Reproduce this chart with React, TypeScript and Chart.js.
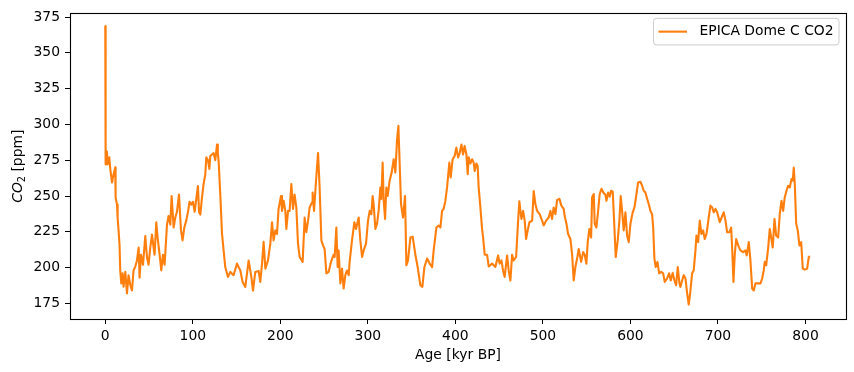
import { useEffect, useRef } from "react";
import { Chart, registerables } from "chart.js";

Chart.register(...registerables);

// Age (kyr BP) and CO2 (ppm)
const ages = [
  0, 0.2, 0.6, 1.9, 2.6, 4.6, 5.7, 7.7, 9.5, 11.4,
  11.8, 13.4, 14.1, 15.2, 16.3, 17.1, 18.3, 19.8, 20.9, 22.9,
  24.8, 26.6, 28.6, 30.5, 32.3, 34.3, 36.2, 38.1, 39.2, 40.8,
  43.1, 45.7, 47.7, 49.5, 51.4, 53.4, 55.2, 56.3, 58.3, 59.8,
  62.1, 64, 65.9, 67.8, 70.5, 72.3, 74.3, 75.8, 78.1, 80,
  81.9, 84.2, 86.5, 88.3, 90.3, 92.6, 94.5, 96.3, 98.3, 100.2,
  102.1, 104, 105.9, 107.1, 108.6, 110.5, 112.3, 114.3, 115.4, 117.4,
  118.9, 120, 121.9, 123.8, 125.7, 127.7, 128.6, 129.5, 131.4, 133.4,
  135.2, 137.1, 140.2, 142.9, 146.6, 150.5, 154.3, 156.9, 160, 163.8,
  166.9, 168.8, 171.4, 175.2, 177.1, 179.1, 180.9, 182.9, 185.9, 188.6,
  190.5, 192.3, 194.3, 196.2, 198, 200.8, 201.9, 203.8, 205.7, 206.9,
  208.8, 210.6, 212.6, 214.5, 216.3, 218.3, 220.2, 222.1, 225.5, 227.8,
  229.7, 231.7, 233.5, 236.2, 236.9, 238.5, 240.8, 243.1, 244.9, 246.9,
  248.8, 250.6, 252.6, 255.2, 257.9, 260.9, 262.1, 264, 265.5, 266.6,
  268.6, 270.5, 272.3, 274.3, 276.2, 278.1, 279.2, 281.9, 284.6, 286.5,
  289.5, 291.4, 293.4, 295.2, 297.9, 300.2, 302.1, 304, 305.5, 306.6,
  308.6, 310.5, 312.3, 314.3, 315.4, 316.9, 318.1, 319.7, 321.1, 322.6,
  324.9, 327.2, 329.5, 331.4, 333.4, 334.9, 336, 337.9, 340.2, 342.5,
  344, 345.9, 348.6, 351.2, 354.3, 356.9, 360, 362.3, 364.6, 367.7,
  370.6, 373.4, 375.2, 378.3, 380.9, 382.9, 384.8, 386.6, 388.6, 390.5,
  393.1, 394.6, 396.9, 399.2, 401.1, 403.1, 404.9, 406.9, 408.8, 410.6,
  412.6, 414.1, 415.2, 417.1, 419.1, 420.9, 422.1, 424, 425.5, 426.6,
  428.6, 430.5, 431.7, 433.5, 436.2, 438.1, 441.9, 445.7, 448.8, 450.6,
  452.6, 454.5, 456.3, 459.1, 460.9, 462.9, 464.8, 466.6, 469.4, 471.7,
  473.1, 475.4, 477.4, 479.2, 480.8, 482.6, 484.6, 487.7, 489.5, 491.4,
  493.4, 496.3, 499.1, 500.9, 503.7, 506.6, 508.6, 510.5, 512.3, 514.3,
  516.2, 518.9, 521.1, 523.8, 524.9, 526.9, 528.8, 531.4, 533.4, 535.2,
  537.1, 539.1, 540.9, 543.7, 546, 547.8, 549.7, 551.2, 553.1, 555.1,
  556.2, 558.1, 559.2, 561.1, 563.1, 564.9, 566.9, 569.5, 571.4, 572.6,
  574.5, 576.3, 577.9, 579.8, 581.7, 583.2, 585.5, 587.4, 588.9, 590.5,
  592.3, 594.3, 596.2, 598.1, 600, 602.6, 604.6, 606.9, 608.8, 611.4,
  613.4, 615.2, 617.1, 619.1, 620.9, 622.9, 624.8, 626, 627.4, 628.9,
  630.9, 632.8, 635.1, 637.4, 639.2, 641.9, 644.2, 646.1, 648.3, 650.3,
  652.2, 654.1, 656, 657.1, 659.1, 660.9, 662.9, 664.8, 666.6, 668.6,
  670.5, 672.3, 674.3, 675.4, 677.4, 679.2, 681.1, 683.1, 684.9, 686.9,
  689.5, 691.4, 693.4, 695.2, 697.1, 699.1, 702.1, 704.8, 706.6, 708.6,
  710.5, 713.1, 715.1, 716.2, 717.7, 719.2, 720.8, 723.1, 725.7, 728.8,
  731.4, 732.9, 735.2, 737.1, 739.1, 740.9, 742.9, 745.9, 748.6, 750.5,
  752.3, 753.5, 755.1, 757.4, 759.2, 761.1, 762.6, 764.6, 766.5, 768.8,
  770.6, 772.6, 774.5, 776.3, 778.3, 780.2, 782.1, 784, 785.5, 786.6,
  787.8, 789.4, 791.2, 793.1, 795.1, 796.9, 799.2, 801.9, 803.8, 805,
];

const co2 = [
  368.7, 286, 272, 281, 272, 277, 269, 259.5, 265, 270,
  249, 244, 235, 226, 216, 198, 189, 196, 186.7, 197,
  182, 194.7, 187.7, 184, 198, 200.7, 205, 214, 193, 209,
  202, 222, 207, 202, 214, 223, 214, 209, 231.7, 221,
  209, 198, 209, 202, 230, 236, 230, 250, 228, 235,
  239, 251, 226, 219, 228, 233, 239, 246, 244, 246,
  239, 248, 257, 239, 237, 249, 258.3, 265, 277, 275,
  269, 278, 279, 280, 275, 286, 280, 274.5, 251, 223.5,
  212, 200.4, 193.5, 197, 194.7, 202.8, 198, 190, 186.5, 205,
  193.5, 184, 197, 197.7, 190, 202.8, 218, 199.3, 205, 216.7,
  231.7, 219, 226, 223.5, 241, 250, 239.6, 246.7, 239.6, 227,
  239.6, 239.6, 258.3, 241, 251, 242, 216.7, 207.4, 204, 235,
  224.7, 232.8, 242, 245.6, 252.5, 239.6, 260.7, 280, 256, 219,
  215.5, 213, 196, 197, 204, 209, 207.4, 228, 200.4, 212,
  189, 199.3, 185.4, 194.7, 198, 194.7, 204, 219, 231.7, 227,
  235, 219, 207.4, 212, 216.7, 232.8, 239.6, 237.3, 250, 244.4,
  227, 230.6, 239.6, 256, 248, 273.3, 246.7, 234, 256, 250,
  260.7, 266.4, 275.7, 266.4, 289.6, 299, 279, 244.4, 235, 250,
  201.6, 205, 221, 221.6, 209, 200.4, 187.7, 186.5, 200.4, 206.3,
  202.8, 200.4, 212, 228, 229.4, 228, 239.6, 241, 246.7, 256,
  273.3, 263, 275.7, 278, 283.8, 277, 280, 286, 279, 285,
  279, 265.3, 277, 272.7, 275.7, 273.3, 267.5, 272.7, 271, 256,
  242, 227, 221, 209, 209, 200.8, 202.8, 200.4, 208.5, 202.8,
  205, 198, 193.5, 208.5, 198, 191, 209, 205, 207.4, 232.8,
  246.3, 234, 239.6, 232.8, 220, 226, 231.7, 232.8, 253.4, 244.4,
  239.6, 237.3, 232.8, 229.4, 232.8, 235, 239.6, 234, 242, 237.3,
  247.2, 248, 243.3, 241, 236, 230.6, 223.5, 220, 209, 191,
  200.4, 206.3, 213, 204, 210.8, 209, 202.8, 217.8, 227, 221,
  249, 251.4, 230.6, 228, 239.6, 251.4, 255, 252, 251, 246.7,
  252.5, 249.5, 253.7, 253, 228, 207.4, 219, 232.8, 250, 239.6,
  226, 238.6, 222.4, 217.8, 230.6, 238.6, 242, 251.4, 259.5, 260,
  257.2, 253.7, 252.5, 248, 244.4, 239.6, 237.3, 228, 206.3, 200.4,
  204, 196, 197, 196, 190, 192.4, 196, 191, 196.3, 191,
  187.7, 200.4, 189, 186.5, 191, 194.7, 192.4, 182, 174.2, 184,
  196, 198, 212, 222.4, 217.8, 232.8, 223.5, 226, 220, 223.5,
  235, 243.3, 242, 238.6, 241, 238.6, 231.7, 236, 238.6, 232.8,
  224.7, 224.7, 228, 214, 190, 209, 220, 215.5, 212, 210.8,
  212, 208.5, 217.8, 205, 185.4, 184, 189, 189, 189, 192.4,
  198, 204, 201.6, 214, 227, 220, 214, 234, 222.4, 221,
  237.3, 246.7, 239.6, 249, 253.7, 257.2, 256, 261.8, 260.7, 269.8,
  258.3, 230.6, 226, 215.5, 217.8, 199.3, 198.6, 199.3, 207.4, 208,
];

const xTicks = [0, 100, 200, 300, 400, 500, 600, 700, 800];
const yTicks = [175, 200, 225, 250, 275, 300, 325, 350, 375];
const X_MIN = -40.3;
const X_MAX = 846.3;
const Y_MIN = 164.1;
const Y_MAX = 377.6;

const seriesLabel = "EPICA Dome C CO2";
const xTitle = "Age [kyr BP]";
const LINE_COLOR = "#ff7f0e";
const FAMILY = "'DejaVu Sans', sans-serif";
const FS = 13.9;

export default function App() {
  const ref = useRef<HTMLCanvasElement>(null);

  useEffect(() => {
    document.body.style.margin = "0";
    const canvas = ref.current;
    if (!canvas) return;

    const decor = {
      id: "decor",
      afterDraw(chart: any) {
        const ctx = chart.ctx as CanvasRenderingContext2D;
        const { left, right, top, bottom } = chart.chartArea;
        ctx.save();
        // frame (spines)
        ctx.strokeStyle = "#000";
        ctx.lineWidth = 1.1;
        ctx.strokeRect(Math.round(left) + 0.5, Math.round(top) + 0.5, Math.round(right - left), Math.round(bottom - top));

        // x title
        ctx.fillStyle = "#000";
        ctx.font = `${FS}px ${FAMILY}`;
        ctx.textAlign = "center";
        ctx.textBaseline = "middle";
        ctx.fillText(xTitle, (left + right) / 2, 355);

        // y title: $CO_2$ [ppm]
        ctx.save();
        ctx.translate(18, (top + bottom) / 2);
        ctx.rotate(-Math.PI / 2);
        ctx.textAlign = "left";
        ctx.textBaseline = "middle";
        const fItal = `italic ${FS}px ${FAMILY}`;
        const fSub = `${FS * 0.7}px ${FAMILY}`;
        const fReg = `${FS}px ${FAMILY}`;
        ctx.font = fItal;
        const w1 = ctx.measureText("CO").width;
        ctx.font = fSub;
        const w2 = ctx.measureText("2").width;
        ctx.font = fReg;
        const w3 = ctx.measureText(" [ppm]").width;
        let x0 = -(w1 + w2 + w3) / 2;
        ctx.font = fItal;
        ctx.fillText("CO", x0, 0);
        x0 += w1;
        ctx.font = fSub;
        ctx.fillText("2", x0, FS * 0.3);
        x0 += w2;
        ctx.font = fReg;
        ctx.fillText(" [ppm]", x0, 0);
        ctx.restore();

        // legend
        const bx = right - 192.5;
        const by = top + 5;
        const bw = 185.5;
        const bh = 26.6;
        const r = 3;
        ctx.beginPath();
        ctx.moveTo(bx + r, by);
        ctx.lineTo(bx + bw - r, by);
        ctx.arcTo(bx + bw, by, bx + bw, by + r, r);
        ctx.lineTo(bx + bw, by + bh - r);
        ctx.arcTo(bx + bw, by + bh, bx + bw - r, by + bh, r);
        ctx.lineTo(bx + r, by + bh);
        ctx.arcTo(bx, by + bh, bx, by + bh - r, r);
        ctx.lineTo(bx, by + r);
        ctx.arcTo(bx, by, bx + r, by, r);
        ctx.closePath();
        ctx.fillStyle = "rgba(255,255,255,0.8)";
        ctx.fill();
        ctx.strokeStyle = "#cccccc";
        ctx.lineWidth = 1;
        ctx.stroke();
        const ly = by + bh / 2;
        ctx.strokeStyle = LINE_COLOR;
        ctx.lineWidth = 2.1;
        ctx.beginPath();
        ctx.moveTo(bx + 5, ly);
        ctx.lineTo(bx + 33.5, ly);
        ctx.stroke();
        ctx.fillStyle = "#000";
        ctx.font = fReg;
        ctx.textAlign = "left";
        ctx.textBaseline = "middle";
        ctx.fillText(seriesLabel, bx + 46, ly);
        ctx.restore();
      },
    };

    const tickFont = { family: FAMILY, size: FS };

    const chart = new Chart(canvas, {
      type: "scatter",
      data: {
        datasets: [
          {
            label: seriesLabel,
            data: ages.map((a, i) => ({ x: a, y: co2[i] })),
            showLine: true,
            borderColor: LINE_COLOR,
            backgroundColor: LINE_COLOR,
            borderWidth: 2.1,
            borderJoinStyle: "round",
            borderCapStyle: "butt",
            pointRadius: 0,
            pointHoverRadius: 0,
            tension: 0,
            fill: false,
          },
        ],
      },
      options: {
        responsive: false,
        animation: false,
        devicePixelRatio: 1,
        layout: { padding: { left: 0, right: 8, top: 11.7, bottom: 0 } },
        plugins: {
          legend: { display: false },
          tooltip: { enabled: false },
        },
        scales: {
          x: {
            type: "linear",
            min: X_MIN,
            max: X_MAX,
            afterBuildTicks: (s: any) => {
              s.ticks = xTicks.map((v) => ({ value: v }));
            },
            afterFit: (s: any) => {
              s.height = 53;
            },
            border: { display: false },
            grid: {
              drawOnChartArea: false,
              drawTicks: true,
              tickLength: 5,
              tickColor: "#000",
              tickWidth: 1,
            },
            ticks: {
              color: "#000",
              font: tickFont,
              padding: 4,
              maxRotation: 0,
              autoSkip: false,
            },
          },
          y: {
            type: "linear",
            min: Y_MIN,
            max: Y_MAX,
            afterBuildTicks: (s: any) => {
              s.ticks = yTicks.map((v) => ({ value: v }));
            },
            afterFit: (s: any) => {
              s.width = 70;
            },
            border: { display: false },
            grid: {
              drawOnChartArea: false,
              drawTicks: true,
              tickLength: 5,
              tickColor: "#000",
              tickWidth: 1,
            },
            ticks: {
              color: "#000",
              font: tickFont,
              padding: 5,
              autoSkip: false,
            },
          },
        },
      },
      plugins: [decor],
    });

    return () => chart.destroy();
  }, []);

  return <canvas ref={ref} width={854} height={372} style={{ display: "block" }} />;
}
